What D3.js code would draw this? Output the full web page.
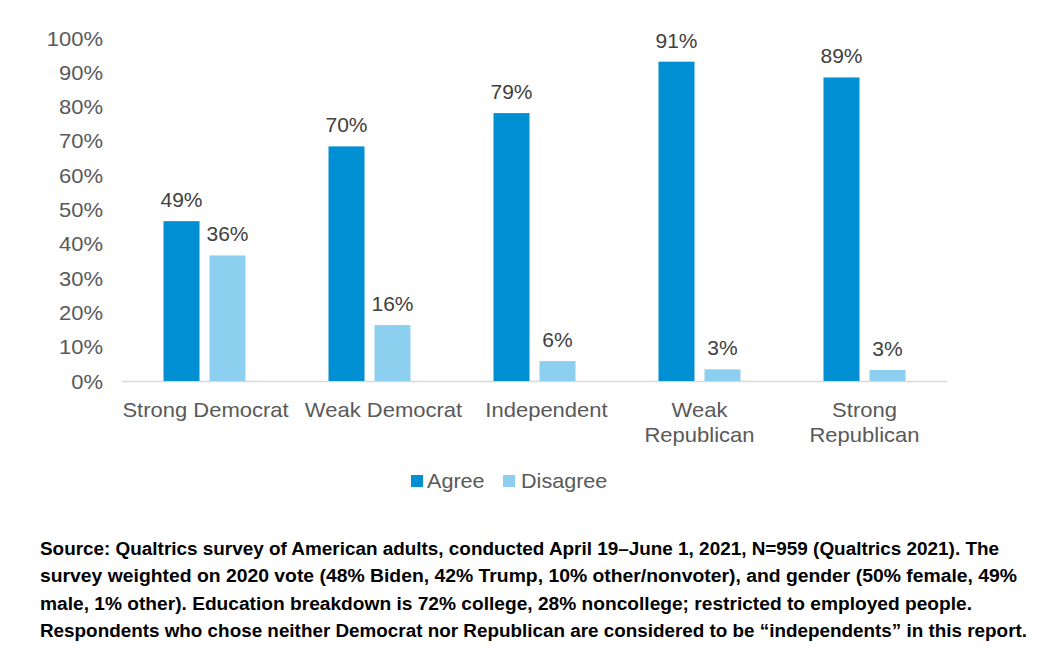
<!DOCTYPE html>
<html>
<head>
<meta charset="utf-8">
<script src="https://cdn.jsdelivr.net/npm/d3@7"></script>
<style>
  body { margin: 0; background: #fff; }
  svg { display: block; font-family: "Liberation Sans", Arial, sans-serif; }
</style>
</head>
<body>
<svg id="chart" width="1056" height="653"></svg>
<script>
// === DATA ===
const categories = ["Strong Democrat", "Weak Democrat", "Independent", "Weak Republican", "Strong Republican"];
const categoryLines = [["Strong Democrat"], ["Weak Democrat"], ["Independent"], ["Weak", "Republican"], ["Strong", "Republican"]];
const seriesNames = ["Agree", "Disagree"];
const agree = [46.6, 68.4, 78.1, 93.1, 88.5];
const disagree = [36.6, 16.3, 5.8, 3.4, 3.2];
const agreeLabels = ["49%", "70%", "79%", "91%", "89%"];
const disagreeLabels = ["36%", "16%", "6%", "3%", "3%"];
const yTicks = [0, 10, 20, 30, 40, 50, 60, 70, 80, 90, 100];
const footnote = [
  "Source: Qualtrics survey of American adults, conducted April 19–June 1, 2021, N=959 (Qualtrics 2021). The",
  "survey weighted on 2020 vote (48% Biden, 42% Trump, 10% other/nonvoter), and gender (50% female, 49%",
  "male, 1% other). Education breakdown is 72% college, 28% noncollege; restricted to employed people.",
  "Respondents who chose neither Democrat nor Republican are considered to be “independents” in this report."
];

const colors = { Agree: "#008fd3", Disagree: "#8dcfee" };
const textColor = "#595959";
const stretch = 1.1; // reference text is a bit wide

// === LAYOUT ===
const plot = { left: 122, right: 947, top: 38, bottom: 381 };
const labelShift = [1, 14, 12, 0, 0]; // category labels nudged like the original
const svg = d3.select("#chart");

const x = d3.scaleBand().domain(categories).range([plot.left, plot.right]).padding(0);
const barW = 36, barGap = 10;
const y = d3.scaleLinear().domain([0, 100]).range([plot.bottom, plot.top]);

const rows = categories.map((c, i) => ({
  cat: c,
  i,
  lines: categoryLines[i],
  values: [
    { key: "Agree", v: agree[i], label: agreeLabels[i] },
    { key: "Disagree", v: disagree[i], label: disagreeLabels[i] }
  ]
}));

// y axis labels
const yAxis = d3.axisLeft(y).tickValues(yTicks).tickFormat(d => d + "%").tickSize(0).tickPadding(19);
const yg = svg.append("g").attr("transform", `translate(${plot.left},0)`).call(yAxis);
yg.select(".domain").remove();
yg.selectAll("text")
  .attr("fill", textColor).style("font-size", "20px").attr("dy", "0.35em")
  .attr("x", -19 / stretch)
  .attr("transform", `scale(${stretch},1)`);

// baseline
svg.append("line")
  .attr("x1", plot.left).attr("x2", plot.right)
  .attr("y1", y(0) + 0.5).attr("y2", y(0) + 0.5)
  .attr("stroke", "#d9d9d9").attr("stroke-width", 1.5);

// bars
const groups = svg.selectAll("g.cat").data(rows).join("g")
  .attr("class", "cat")
  .attr("transform", d => `translate(${x(d.cat) + x.bandwidth() / 2 - barW - barGap / 2},0)`);

groups.selectAll("rect").data(d => d.values).join("rect")
  .attr("x", (d, i) => i * (barW + barGap))
  .attr("y", d => y(d.v))
  .attr("width", barW)
  .attr("height", d => y(0) - y(d.v))
  .attr("fill", d => colors[d.key]);

groups.selectAll("text.val").data(d => d.values).join("text")
  .attr("class", "val")
  .attr("transform", (d, i) => `translate(${i * (barW + barGap) + barW / 2},${y(d.v) - 14}) scale(1.05,1)`)
  .attr("text-anchor", "middle")
  .attr("fill", "#404040")
  .style("font-size", "20px")
  .text(d => d.label);

// category labels
const catLabels = svg.selectAll("text.catlab").data(rows).join("text")
  .attr("class", "catlab")
  .attr("transform", d => `translate(${x(d.cat) + x.bandwidth() / 2 + labelShift[d.i]},417) scale(${stretch},1)`)
  .attr("text-anchor", "middle")
  .attr("fill", textColor)
  .style("font-size", "20px");
catLabels.selectAll("tspan").data(d => d.lines).join("tspan")
  .attr("x", 0)
  .attr("dy", (d, i) => i === 0 ? 0 : 25)
  .text(d => d);

// legend
const legendX = [411, 503];
const legend = svg.selectAll("g.leg").data(seriesNames).join("g")
  .attr("class", "leg")
  .attr("transform", (d, i) => `translate(${legendX[i]},475)`);
legend.append("rect").attr("width", 12).attr("height", 12).attr("fill", d => colors[d]);
legend.append("text")
  .attr("transform", (d, i) => `translate(${i === 0 ? 16 : 18},6) scale(1.08,1)`)
  .attr("dy", "0.35em")
  .attr("fill", textColor).style("font-size", "20px")
  .text(d => d);

// footnote
const footEnds = [999, 1017, 972, 1027];
svg.selectAll("text.foot").data(footnote).join("text")
  .attr("class", "foot")
  .attr("x", 40)
  .attr("y", (d, i) => 555 + i * 27.3)
  .attr("fill", "#000")
  .style("font-size", "17.5px")
  .style("font-weight", "bold")
  .attr("textLength", (d, i) => footEnds[i] - 40)
  .attr("lengthAdjust", "spacingAndGlyphs")
  .text(d => d);
</script>
</body>
</html>
